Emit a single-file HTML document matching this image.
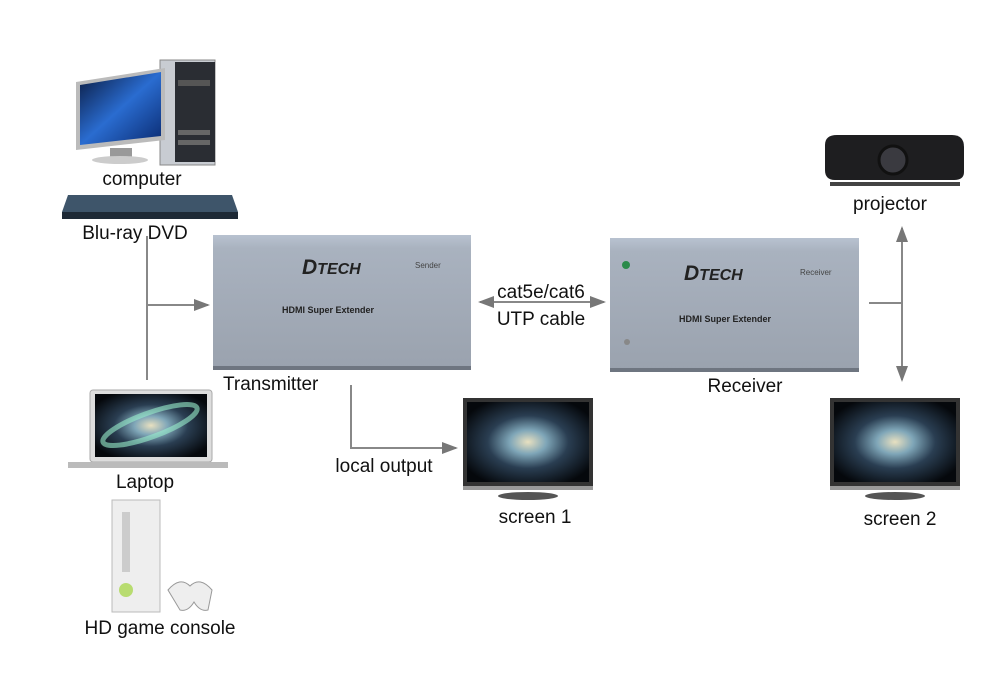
<!DOCTYPE html>
<html><head><meta charset="utf-8"><style>
html,body{margin:0;padding:0;background:#fff;}
svg{display:block;font-family:"Liberation Sans",Arial,sans-serif;}
</style></head><body>
<svg width="1000" height="700" viewBox="0 0 1000 700" xmlns="http://www.w3.org/2000/svg">
<defs>
<linearGradient id="box" x1="0" y1="0" x2="0" y2="1"><stop offset="0" stop-color="#b8c2d0"/><stop offset="0.1" stop-color="#a9b2bf"/><stop offset="1" stop-color="#9aa2ae"/></linearGradient>
<radialGradient id="gal" cx="0.5" cy="0.5" r="0.6"><stop offset="0" stop-color="#e8e0c0"/><stop offset="0.25" stop-color="#7fa6b8"/><stop offset="0.55" stop-color="#2a3e52"/><stop offset="1" stop-color="#05080c"/></radialGradient>
<linearGradient id="mon" x1="0" y1="0" x2="1" y2="1"><stop offset="0" stop-color="#0a1a40"/><stop offset="0.5" stop-color="#2a6cd0"/><stop offset="1" stop-color="#0a2a70"/></linearGradient>
<marker id="ar" markerWidth="8" markerHeight="8" refX="7" refY="4" orient="auto"><path d="M0,1 L8,4 L0,7 z" fill="#777"/></marker>
<marker id="al" markerWidth="8" markerHeight="8" refX="1" refY="4" orient="auto"><path d="M8,1 L0,4 L8,7 z" fill="#777"/></marker>
</defs>
<rect width="1000" height="700" fill="#fff"/>

<!-- computer -->
<rect x="160" y="60" width="55" height="105" fill="#c8ccd2" stroke="#888"/>
<rect x="175" y="62" width="40" height="100" fill="#2a2d33"/>
<rect x="178" y="80" width="32" height="6" fill="#555"/>
<rect x="178" y="130" width="32" height="5" fill="#666"/><rect x="178" y="140" width="32" height="5" fill="#666"/>
<polygon points="76,82 165,68 165,140 76,150" fill="#bbb"/>
<polygon points="80,85 161,72 161,136 80,145" fill="url(#mon)"/>
<rect x="110" y="148" width="22" height="10" fill="#999"/>
<ellipse cx="120" cy="160" rx="28" ry="4" fill="#ccc"/>
<text x="142" y="185" font-size="19" text-anchor="middle" fill="#111">computer</text>

<!-- bluray -->
<polygon points="68,195 232,195 238,212 62,212" fill="#3e556a"/>
<rect x="62" y="212" width="176" height="7" fill="#1e2a36"/>
<text x="135" y="239" font-size="19" text-anchor="middle" fill="#111">Blu-ray DVD</text>

<!-- left connector -->
<line x1="147" y1="236" x2="147" y2="380" stroke="#888" stroke-width="2"/>
<line x1="147" y1="305" x2="208" y2="305" stroke="#888" stroke-width="2" marker-end="url(#ar)"/>

<!-- laptop -->
<rect x="90" y="390" width="122" height="72" rx="3" fill="#ddd" stroke="#aaa"/>
<rect x="95" y="394" width="112" height="63" fill="url(#gal)"/>
<ellipse cx="150" cy="425" rx="50" ry="12" transform="rotate(-20 150 425)" fill="none" stroke="#9ec" stroke-width="5" opacity="0.6"/>
<rect x="68" y="462" width="160" height="6" fill="#bbb"/>
<text x="145" y="488" font-size="19" text-anchor="middle" fill="#111">Laptop</text>

<!-- xbox -->
<rect x="112" y="500" width="48" height="112" fill="#eee" stroke="#bbb"/>
<rect x="122" y="512" width="8" height="60" fill="#ccc"/>
<circle cx="126" cy="590" r="7" fill="#b8dc70"/>
<path d="M168,590 q12,-14 22,-4 q10,-10 22,4 l-4,20 q-8,2 -14,-8 q-6,10 -14,8 z" fill="#eee" stroke="#999"/>
<text x="160" y="634" font-size="19" text-anchor="middle" fill="#111">HD game console</text>

<!-- transmitter -->
<rect x="213" y="235" width="258" height="135" fill="url(#box)"/>
<rect x="213" y="366" width="258" height="4" fill="#6e7580"/>
<text x="302" y="274" font-size="21" font-weight="bold" font-style="italic" fill="#222">D<tspan font-size="16">TECH</tspan></text>
<text x="415" y="268" font-size="8" fill="#444">Sender</text>
<text x="328" y="313" font-size="9" font-weight="bold" text-anchor="middle" fill="#222">HDMI Super Extender</text>
<text x="223" y="390" font-size="19" fill="#111">Transmitter</text>

<!-- local output -->
<polyline points="351,385 351,448 456,448" fill="none" stroke="#888" stroke-width="2" marker-end="url(#ar)"/>
<text x="384" y="472" font-size="19" text-anchor="middle" fill="#111">local output</text>

<!-- screen1 -->
<rect x="463" y="398" width="130" height="88" fill="#333"/>
<rect x="467" y="402" width="122" height="80" fill="url(#gal)"/>
<rect x="463" y="486" width="130" height="4" fill="#999"/>
<ellipse cx="528" cy="496" rx="30" ry="4" fill="#555"/>
<text x="535" y="523" font-size="19" text-anchor="middle" fill="#111">screen 1</text>

<!-- cable -->
<line x1="480" y1="302" x2="604" y2="302" stroke="#888" stroke-width="2" marker-start="url(#al)" marker-end="url(#ar)"/>
<text x="541" y="298" font-size="19" text-anchor="middle" fill="#111">cat5e/cat6</text>
<text x="541" y="325" font-size="19" text-anchor="middle" fill="#111">UTP cable</text>

<!-- receiver -->
<rect x="610" y="238" width="249" height="134" fill="url(#box)"/>
<rect x="610" y="368" width="249" height="4" fill="#6e7580"/>
<circle cx="626" cy="265" r="4" fill="#2a8a4a"/>
<circle cx="627" cy="342" r="3" fill="#888"/>
<text x="684" y="280" font-size="21" font-weight="bold" font-style="italic" fill="#222">D<tspan font-size="16">TECH</tspan></text>
<text x="800" y="275" font-size="8" fill="#444">Receiver</text>
<text x="725" y="322" font-size="9" font-weight="bold" text-anchor="middle" fill="#222">HDMI Super Extender</text>
<text x="745" y="392" font-size="19" text-anchor="middle" fill="#111">Receiver</text>

<!-- right connector -->
<line x1="869" y1="303" x2="902" y2="303" stroke="#888" stroke-width="2"/>
<line x1="902" y1="228" x2="902" y2="380" stroke="#888" stroke-width="2" marker-start="url(#al)" marker-end="url(#ar)"/>

<!-- projector -->
<path d="M825,145 q0,-10 12,-10 l115,0 q12,0 12,12 l0,25 q0,8 -10,8 l-119,0 q-10,0 -10,-10 z" fill="#1e1e20"/>
<circle cx="893" cy="160" r="14" fill="#3a3a40" stroke="#111" stroke-width="3"/>
<rect x="830" y="182" width="130" height="4" fill="#444"/>
<text x="890" y="210" font-size="19" text-anchor="middle" fill="#111">projector</text>

<!-- screen2 -->
<rect x="830" y="398" width="130" height="88" fill="#333"/>
<rect x="834" y="402" width="122" height="80" fill="url(#gal)"/>
<rect x="830" y="486" width="130" height="4" fill="#999"/>
<ellipse cx="895" cy="496" rx="30" ry="4" fill="#555"/>
<text x="900" y="525" font-size="19" text-anchor="middle" fill="#111">screen 2</text>
</svg>
</body></html>
